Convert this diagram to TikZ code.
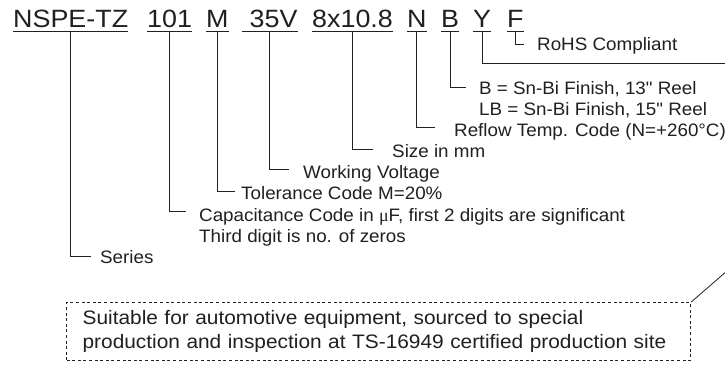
\documentclass[tikz,border=0pt]{standalone}
\usepackage{fontspec}
\setmainfont{Liberation Sans}
\newfontfamily\serifmu{Liberation Serif}
\newfontfamily\codeface[FakeStretch=1.075]{Liberation Sans}
\newfontfamily\lblface[FakeStretch=1.045]{Liberation Sans}
\newfontfamily\boxface[FakeStretch=1.07]{Liberation Sans}
\definecolor{ink}{RGB}{35,31,32}
\newcommand\codefont{\codeface\fontsize{25}{30}\selectfont}
\newcommand\lblfont{\lblface\fontsize{18}{21}\selectfont}
\newcommand\boxfont{\boxface\fontsize{19.5}{24}\selectfont}
\newcommand\dq{\char"22\relax}
\tikzset{
  code/.style={font=\codefont, inner sep=0pt, anchor=base west, text depth=3.5pt, text=ink},
  lbl/.style={font=\lblfont, inner sep=0pt, anchor=base west, text=ink},
  conn/.style={draw=ink, line width=1pt},
}
\begin{document}
\begin{tikzpicture}[x=1pt, y=-1pt]
\clip (0,0) rectangle (725,364);
\fill[white] (0,0) rectangle (725,364);
% code row
\node[code] (cNS) at (13,27.5) {NSPE-TZ};
\node[code] (c101) at (147,27.5) {101};
\node[code] (cM) at (206,27.5) {M};
\node[code] (cV) at (242,27.5) {\ 35V};
\node[code] (cSz) at (312,27.5) {8x10.8};
\node[code] (cN) at (407,27.5) {N};
\node[code] (cB) at (441,27.5) {B};
\node[code] (cY) at (473,27.5) {Y};
\node[code] (cF) at (507,27.5) {F};
\foreach \n in {cNS,c101,cM,cV,cSz,cN,cB,cY,cF}
  \draw[conn] (\n.south west) -- (\n.south east);
% labels
\node[lbl] (lF) at (537,50) {RoHS Compliant};
\node[lbl] (lB) at (479,94) {B = Sn-Bi Finish, 13\dq\ Reel};
\node[lbl] (lB2) at (479,115) {LB = Sn-Bi Finish, 15\dq\ Reel};
\node[lbl] (lN) at (454,136) {Reflow Temp. Code (N=+260°C)};
\node[lbl] (lSz) at (392,157) {Size in mm};
\node[lbl] (lV) at (303,178) {Working Voltage};
\node[lbl] (lM) at (241,199) {Tolerance Code M=20\%};
\node[lbl] (l101) at (199,221) {Capacitance Code in {\serifmu μ}F, first 2 digits are significant};
\node[lbl] (l101b) at (199,242) {Third digit is no. of zeros};
\node[lbl] (lNS) at (100,263) {Series};
% box
\node[draw=ink, line width=1.2pt, dash pattern=on 3pt off 2.6pt, anchor=north west,
      minimum width=624pt, minimum height=58pt, inner xsep=16pt, inner ysep=0pt,
      text width=592pt, align=left, font=\boxfont, text=ink] (box) at (66,302)
  {Suitable for automotive equipment, sourced to special\\production and inspection at TS-16949 certified production site};
\coordinate (yend) at (735,63);
\coordinate (dend) at (735,264);
% connectors
\draw[conn] (cF.south) |- ([xshift=-13pt,yshift=6pt]lF.base west);
\draw[conn] (cY.south) |- (yend);
\draw[conn] (cB.south) |- ([xshift=-13pt,yshift=7pt]lB.base west);
\draw[conn] (cN.south) |- ([xshift=-19pt,yshift=9pt]lN.base west);
\draw[conn] (cSz.south) |- ([xshift=-19pt,yshift=8pt]lSz.base west);
\draw[conn] (cV.south) |- ([xshift=-14pt,yshift=9pt]lV.base west);
\draw[conn] (cM.south) |- ([xshift=-6pt,yshift=8pt]lM.base west);
\draw[conn] (c101.south) |- ([xshift=-13pt,yshift=10pt]l101.base west);
\draw[conn] (cNS.south) |- ([xshift=-9pt,yshift=7pt]lNS.base west);
\draw[conn, line width=0.8pt] (box.north east) -- (dend);
\end{tikzpicture}
\end{document}
